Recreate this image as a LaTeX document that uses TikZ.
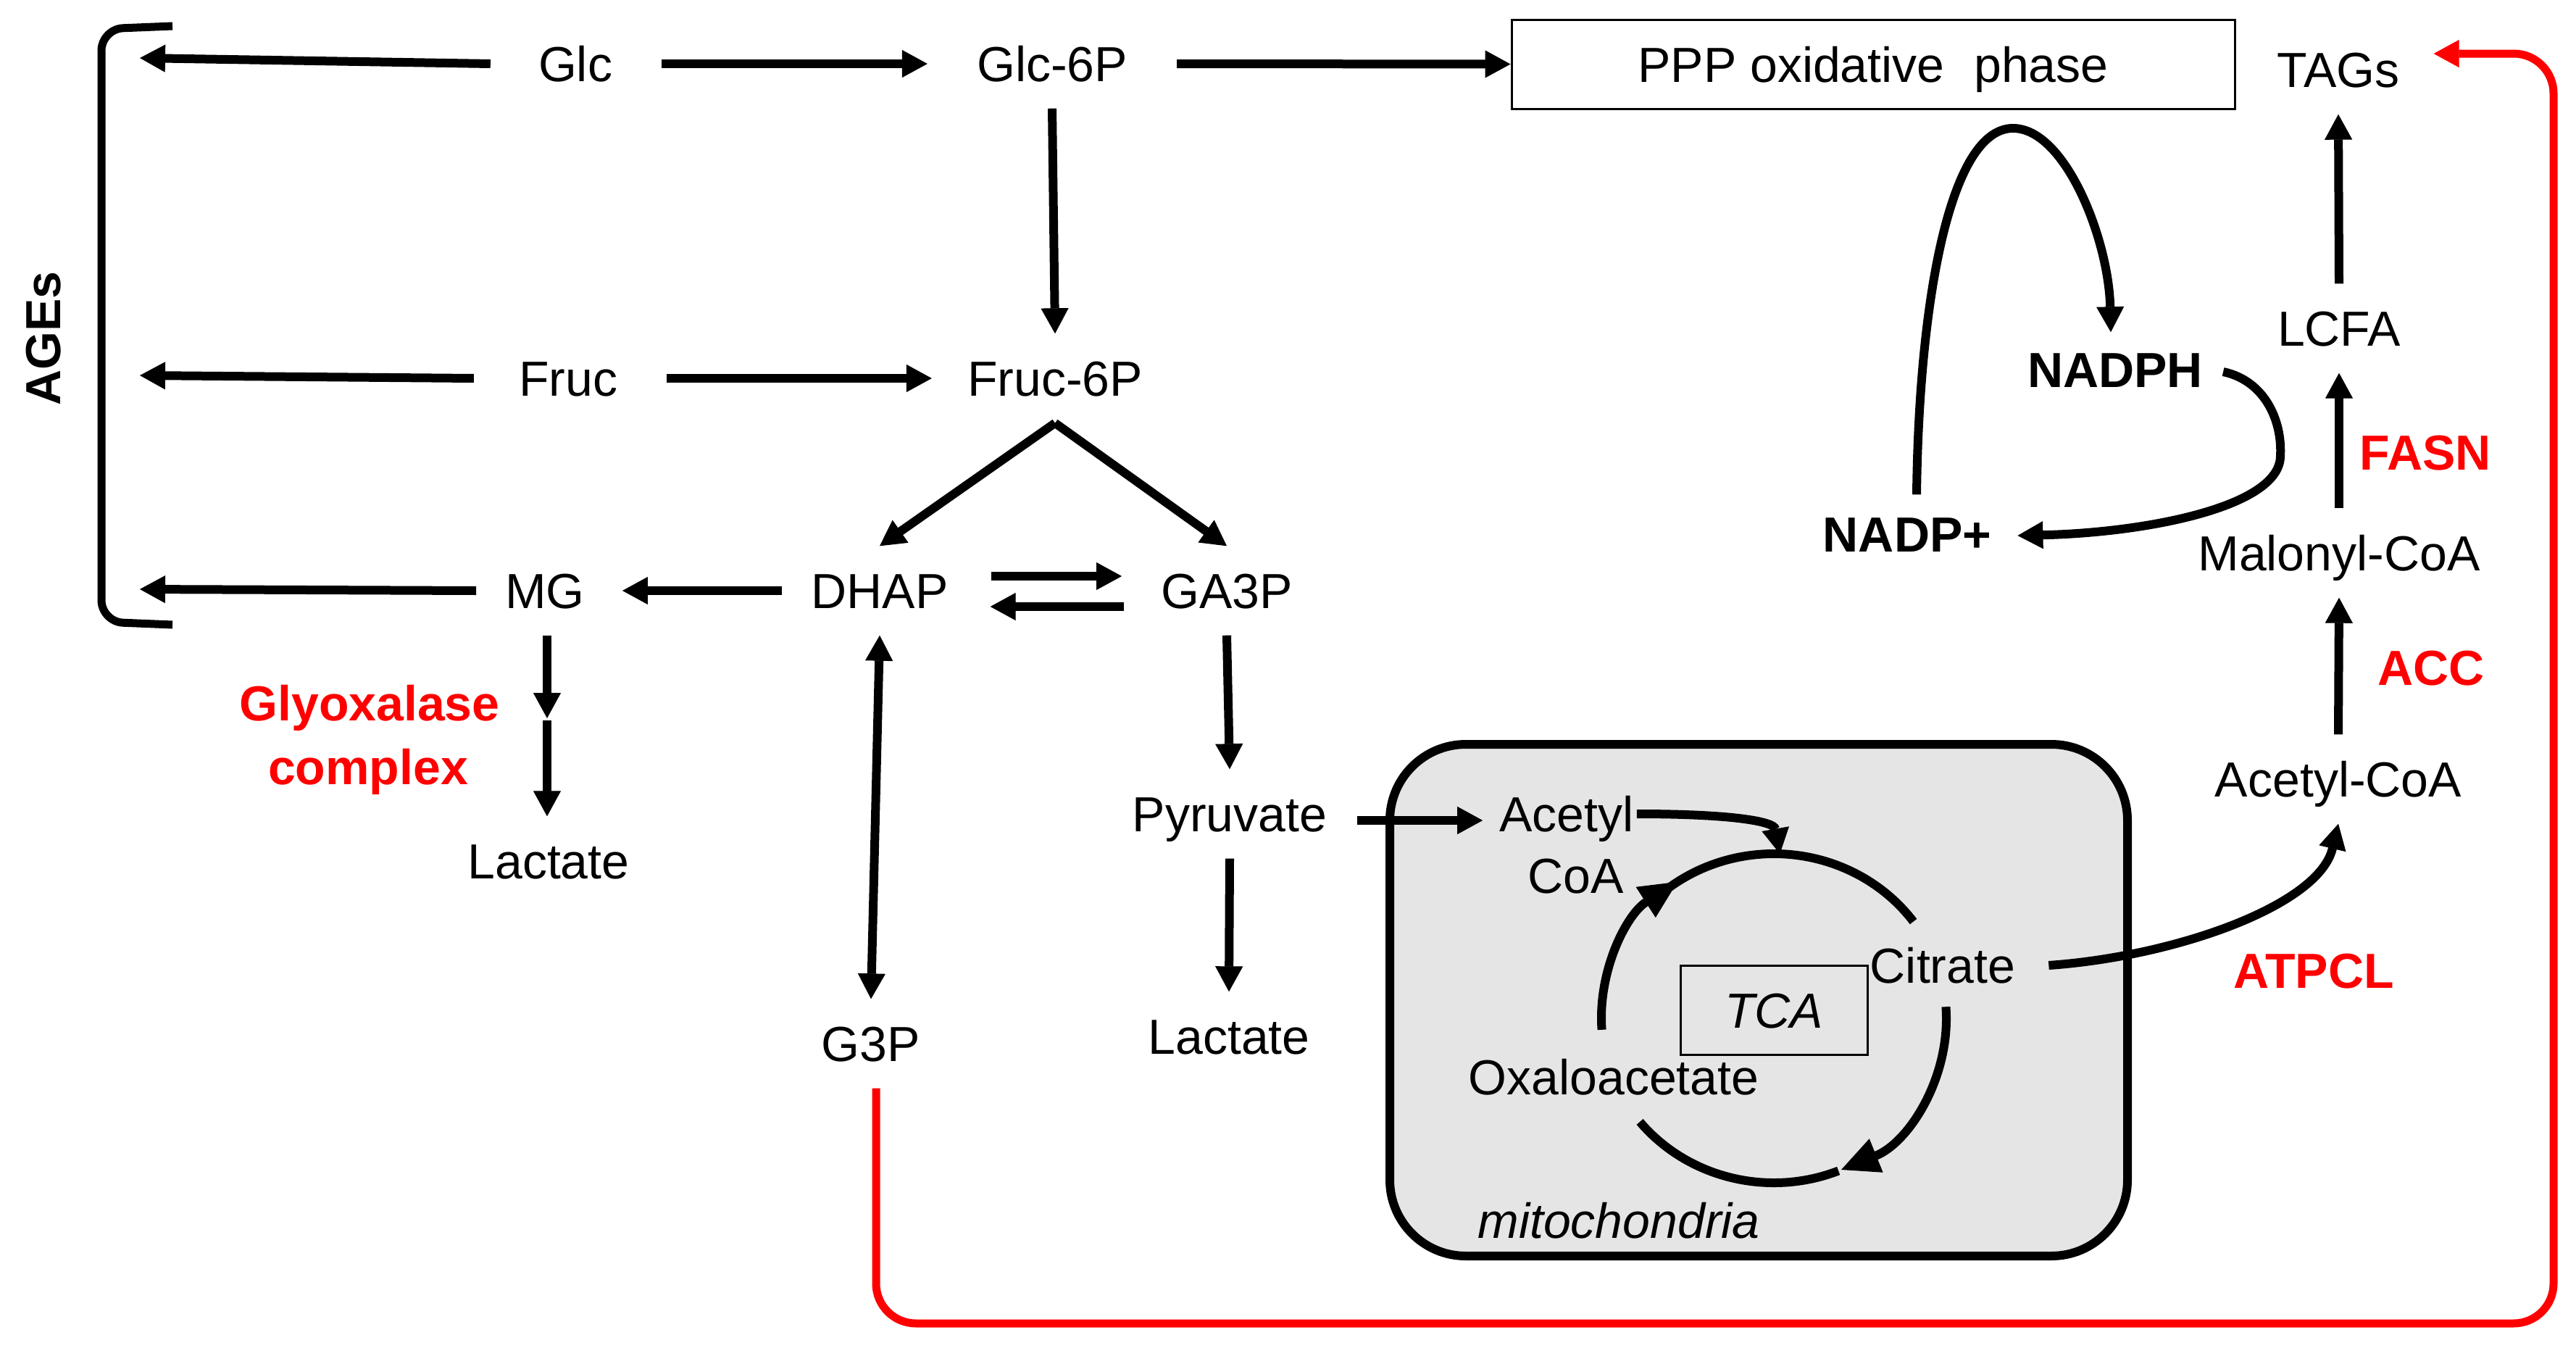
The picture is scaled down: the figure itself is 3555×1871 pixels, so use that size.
\documentclass[tikz,border=0pt]{standalone}
\usepackage{fontspec}
\setmainfont{Liberation Sans}
\usetikzlibrary{arrows.meta,calc}
\newcommand\myfnt{\fontsize{68pt}{82pt}\selectfont}
\definecolor{mitogray}{RGB}{229,229,229}
\definecolor{pathred}{RGB}{255,0,0}
\begin{document}
\begin{tikzpicture}[x=1pt,y=1pt,
  met/.style={font=\myfnt, text height=49pt, text depth=0pt, inner xsep=68pt, inner ysep=37pt},
  tight/.style={font=\myfnt, text height=49pt, text depth=0pt, inner sep=0pt},
  enz/.style={tight, font=\myfnt\bfseries, text=pathred},
  tip/.tip={Triangle[length=35pt,width=38pt,line width=1pt]},
  bigtip/.tip={Triangle[length=52pt,width=50pt,line width=1pt]},
  arr/.style={line width=12pt, -tip},
  cyc/.style={line width=12pt, -bigtip},
  ln/.style={line width=12pt},
  thinbox/.style={draw, line width=3pt, inner sep=0pt, font=\myfnt, text height=49pt, text depth=0pt},
]
\useasboundingbox (0,0) rectangle (3555,-1871);

% mitochondria compartment
\node[draw, line width=12pt, fill=mitogray, rounded corners=105pt, minimum width=1018pt, minimum height=706pt] (mito) at (2427,-1380) {};

% metabolite nodes
\node[met] (glc) at (794,-88) {Glc};
\node[met] (glc6p) at (1452,-88) {Glc-6P};
\node[thinbox, minimum width=998pt, minimum height=123pt] (ppp) at (2585,-88.5) {PPP oxidative\hspace{0.6em}phase};
\node[met] (tags) at (3227,-96) {TAGs};
\node[met] (fruc) at (784,-522) {Fruc};
\node[met] (fruc6p) at (1456,-522) {Fruc-6P};
\node[met] (mg) at (752,-815) {MG};
\node[met] (dhap) at (1214,-815) {DHAP};
\node[met] (ga3p) at (1693,-815) {GA3P};
\node[enz] (glyo1) at (510,-970) {Glyoxalase};
\node[enz] (glyo2) at (508,-1058) {complex};
\node[met] (lacL) at (757,-1188) {Lactate};
\node[met] (g3p) at (1202,-1440) {G3P};
\node[met] (pyr) at (1697,-1123) {Pyruvate};
\node[met] (lacR) at (1696,-1430) {Lactate};
\node[font=\myfnt\bfseries, rotate=90, inner sep=0pt] (ages) at (60,-467) {AGEs};
\node[met] (lcfa) at (3228,-453) {LCFA};
\node[met, font=\myfnt\bfseries] (nadph) at (2919,-510) {NADPH};
\node[met, font=\myfnt\bfseries] (nadp) at (2632,-737) {NADP+};
\node[enz] (fasn) at (3347,-624) {FASN};
\node[met] (malcoa) at (3228,-763) {Malonyl-CoA};
\node[enz] (acc) at (3355,-921) {ACC};
\node[met] (acoa) at (3227,-1075) {Acetyl-CoA};
\node[enz] (atpcl) at (3193,-1339) {ATPCL};

% inside mitochondria
\node[tight, inner xsep=4pt] (acet) at (2162,-1123) {Acetyl};
\node[tight] (coa) at (2175,-1208) {CoA};
\node[tight] (cit) at (2681,-1332) {Citrate};
\node[tight] (oaa) at (2227,-1486) {Oxaloacetate};
\node[thinbox, font=\myfnt\itshape, minimum width=258pt, minimum height=123pt] (tca) at (2448,-1394) {TCA};
\node[tight, font=\myfnt\itshape] (mitolab) at (2234,-1684) {mitochondria};

% AGEs bracket
\draw[line width=11pt, rounded corners=30pt] (238,-36) -- (140,-40) -- (140,-858) -- (238,-862);
\coordinate (a1) at (193,-80);
\coordinate (a2) at (193,-518);
\coordinate (a3) at (193,-813);
\draw[arr] ([xshift=2pt]glc.west) -- (a1);
\draw[arr] ([xshift=6pt]fruc.west) -- (a2);
\draw[arr] ([xshift=28pt]mg.west) -- (a3);

% glycolysis
\draw[arr] (glc.east) -- (glc6p.west);
\draw[arr] (glc6p.east) -- (ppp.west);
\draw[arr] (glc6p.south) -- (fruc6p.north);
\draw[arr] (fruc.east) -- ([xshift=19pt]fruc6p.west);
\draw[arr] (fruc6p.south) -- (dhap.north);
\draw[arr] (fruc6p.south) -- (ga3p.north);
\draw[arr] ([xshift=28pt]dhap.west) -- ([xshift=-16pt]mg.east);
\draw[arr] ([xshift=-9pt,yshift=20pt]dhap.east) -- ([xshift=14pt,yshift=20pt]ga3p.west);
\draw[arr] ([xshift=17pt,yshift=-22pt]ga3p.west) -- ([xshift=-10pt,yshift=-22pt]dhap.east);
\coordinate (mgmid) at (755,-991);
\draw[arr] (mg.south -| mgmid) -- (mgmid);
\draw[arr] ([yshift=-3pt]mgmid) -- (lacL.north -| mgmid);
\draw[line width=12pt, tip-tip] (dhap.south) -- (g3p.north);
\draw[arr] (ga3p.south) -- (pyr.north);
\draw[arr] (pyr.south) -- (lacR.north);
\draw[arr] ([xshift=-26pt,yshift=-9pt]pyr.east) -- ([xshift=-19pt,yshift=-9pt]acet.west);

% TCA cycle
\coordinate (cc) at (2448,-1405);
\draw[cyc] ($(cc)+(184:238 and 227)$) arc[start angle=184,end angle=124,x radius=238,y radius=227];
\draw[ln] ($(cc)+(128:238 and 227)$) arc[start angle=128,end angle=36,x radius=238,y radius=227];
\draw[cyc] ($(cc)+(4:238 and 227)$) arc[start angle=4,end angle=-67,x radius=238,y radius=227];
\draw[ln] ($(cc)+(219:238 and 227)$) arc[start angle=219,end angle=292,x radius=238,y radius=227];
\coordinate (tcatop) at ($(cc)+(88:238 and 227)$);
\draw[arr] (acet.east) .. controls +(130,0) and +(-8,45) .. (tcatop);

% citrate export and lipogenesis
\draw[arr] ([xshift=46pt]cit.east) .. controls (3000,-1320) and (3200,-1250) .. (acoa.south);
\draw[arr] (acoa.north) -- (malcoa.south);
\draw[arr] (malcoa.north) -- (lcfa.south);
\draw[arr] (lcfa.north) -- (tags.south);

% NADPH / NADP+ loop
\coordinate (looptop) at (2778,-177);
\draw[arr] ([xshift=13pt,yshift=-7pt]nadp.north) .. controls (2648,-420) and (2690,-177) .. (looptop)
  .. controls (2850,-177) and (2910,-330) .. ([xshift=-6pt,yshift=-10pt]nadph.north);
\coordinate (loopright) at (3147,-630);
\draw[arr] ([xshift=-40pt,yshift=-3pt]nadph.east) .. controls (3125,-525) and (3150,-580) .. (loopright)
  .. controls (3145,-700) and (2960,-735) .. ([xshift=-32pt,yshift=-2pt]nadp.east);

% red glycerol-3-phosphate route to TAGs
\coordinate (rc) at (3524,-1826);
\draw[pathred, line width=11pt, rounded corners=55pt, -tip] ([xshift=7pt]g3p.south) |- (rc) |- ([xshift=-21pt,yshift=22pt]tags.east);
\end{tikzpicture}
\end{document}
